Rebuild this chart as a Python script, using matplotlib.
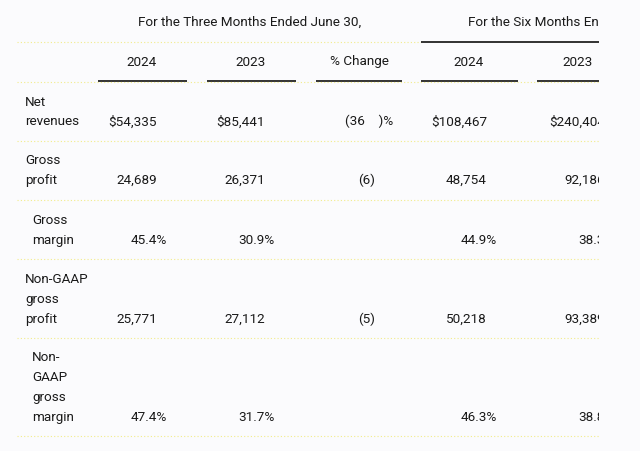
import matplotlib
matplotlib.use("Agg")
import matplotlib.pyplot as plt

plt.rcParams['font.family'] = ['Roboto', 'DejaVu Sans']

# ---- data ----
group_titles = ["For the Three Months Ended June 30,", "For the Six Months Ended June 30,"]
col_headers = ["2024", "2023", "% Change", "2024", "2023"]
row_labels = [["Net", "revenues"],
              ["Gross", "profit"],
              ["Gross", "margin"],
              ["Non-GAAP", "gross", "profit"],
              ["Non-", "GAAP", "gross", "margin"]]
row_indent = [False, False, True, False, True]
values_2024_q = ["$54,335", "24,689", "45.4%", "25,771", "47.4%"]
values_2023_q = ["$85,441", "26,371", "30.9%", "27,112", "31.7%"]
pct_change_q = ["(36\u2009\u2009\u2009\u2009\u2009)%", "(6)", "", "(5)", ""]
values_2024_h = ["$108,467", "48,754", "44.9%", "50,218", "46.3%"]
values_2023_h = ["$240,404", "92,186", "38.3%", "93,389", "38.8%"]

# ---- layout (pixel coordinates) ----
W, H = 640, 452
BG = "#fbfbfd"
TXT = "#1a1a1a"
fig = plt.figure(figsize=(W / 100, H / 100), dpi=100)
fig.patch.set_facecolor(BG)
CLIP_X = 599
ax = fig.add_axes([0, 0, CLIP_X / W, 1])
ax.set_xlim(0, CLIP_X)
ax.set_ylim(H, 0)
ax.set_facecolor(BG)
ax.axis('off')

FS = 9.7

def txt(x, y, s, ha='left', **kw):
    return ax.text(x, y, s, ha=ha, va='center', fontsize=FS, color=TXT, clip_on=True, **kw)

# group titles
txt(250, 22, group_titles[0], ha='center')
txt(468, 22, group_titles[1], ha='left')

# lines
dot_col = "#f2ec8a"
ax.plot([17, 421], [43, 43], color=dot_col, lw=0.8, ls=(0, (1, 2)))
ax.plot([421, 640], [43, 43], color="#222222", lw=1.3, solid_capstyle='butt')

header_centers = [142, 251, 359, 469, 578]
underlines = [(98, 187), (207, 296), (316, 402), (421, 518), (537, 640)]
for c, h in zip(header_centers, col_headers):
    txt(c, 62, h, ha='center')
for a, b in underlines:
    ax.plot([a, b], [82, 82], color="#222222", lw=1.3, solid_capstyle='butt')
ax.plot([17, 640], [82.5, 82.5], color=dot_col, lw=0.8, ls=(0, (1, 2)))

seps = [142, 201, 260, 339, 437]
for s in seps:
    ax.plot([17, 640], [s, s], color=dot_col, lw=0.8, ls=(0, (1, 2)))

row_first_y = [102, 161, 221, 280, 358]
LS = 19.7
col_right = [157, 265, 375, 487, 605]
cols = [values_2024_q, values_2023_q, pct_change_q, values_2024_h, values_2023_h]
for i, lines in enumerate(row_labels):
    x0 = 32 if row_indent[i] else 25
    for j, ln in enumerate(lines):
        txt(x0, row_first_y[i] + j * LS, ln)
    yv = row_first_y[i] + (len(lines) - 1) * LS
    for k, col in enumerate(cols):
        v = col[i]
        if not v:
            continue
        xr = col_right[k]
        if v.endswith('%') and k != 2:
            xr += 10
        if k == 2 and v.endswith('%'):
            xr = 393
        txt(xr, yv, v, ha='right')

fig.savefig("out.png", dpi=100, facecolor=BG)
